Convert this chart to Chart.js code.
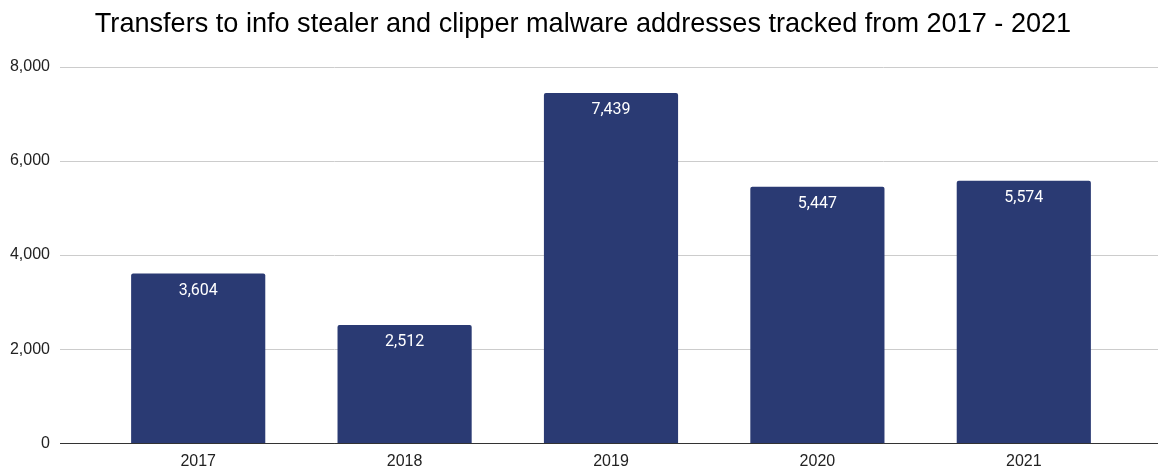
<!DOCTYPE html>
<html><head><meta charset="utf-8">
<script src="https://cdn.jsdelivr.net/npm/chart.js@4.4.1/dist/chart.umd.min.js"></script>
<style>html,body{margin:0;padding:0;background:#fff;overflow:hidden;height:473px}canvas{display:block}</style>
</head><body><canvas id="c" width="1158" height="498"></canvas>
<script>
const categories = ["2017", "2018", "2019", "2020", "2021"];
const transfers = [3604, 2512, 7439, 5447, 5574];
const yTicks = [0, 2000, 4000, 6000, 8000];
const titleText = "Transfers to info stealer and clipper malware addresses tracked from 2017 - 2021";

const fmt = v => v.toLocaleString('en-US');

const extras = {
  id: 'extras',
  beforeDatasetsDraw(chart) {
    const {ctx} = chart; const y = chart.scales.y;
    ctx.save();
    yTicks.forEach(t => {
      const py = Math.round(y.getPixelForValue(t)) + 0.5;
      ctx.strokeStyle = t === 0 ? '#333333' : '#cccccc';
      ctx.lineWidth = 1;
      ctx.beginPath(); ctx.moveTo(60, py); ctx.lineTo(1158, py); ctx.stroke();
    });
    ctx.restore();
  },
  afterDatasetsDraw(chart) {
    const {ctx} = chart;
    const meta = chart.getDatasetMeta(0);
    ctx.save();
    ctx.fillStyle = '#ffffff';
    ctx.font = '16px Roboto';
    ctx.textAlign = 'center'; ctx.textBaseline = 'middle';
    meta.data.forEach((el, i) => {
      ctx.fillText(fmt(transfers[i]), el.x, el.y + 17);
    });
    const y = chart.scales.y;
    const py = Math.round(y.getPixelForValue(0)) + 0.5;
    ctx.strokeStyle = '#333333'; ctx.lineWidth = 1;
    ctx.beginPath(); ctx.moveTo(60, py); ctx.lineTo(1158, py); ctx.stroke();
    ctx.restore();
  }
};

new Chart(document.getElementById('c'), {
  type: 'bar',
  data: {
    labels: categories,
    datasets: [{
      data: transfers,
      backgroundColor: '#2a3a73',
      borderRadius: {topLeft: 2, topRight: 2},
      borderSkipped: 'bottom',
      categoryPercentage: 1,
      barPercentage: 0.65
    }]
  },
  options: {
    responsive: false, animation: false,
    layout: {padding: {left: 8, right: 0, top: 0, bottom: 0}},
    plugins: {
      legend: {display: false}, tooltip: {enabled: false},
      title: {display: true, text: titleText, color: '#000000',
        font: {family: "'Liberation Sans', Arial", size: 27.1, weight: 'normal'},
        padding: {top: 8, bottom: 26}}
    },
    scales: {
      x: {
        afterFit(s) { s.height = 30; },
        grid: {display: false, drawTicks: false}, border: {display: false},
        ticks: {color: '#222222', font: {family: "'Liberation Sans', Arial", size: 16}, padding: 9}
      },
      y: {
        min: 0, max: 8000,
        afterFit(s) { s.width = 87; },
        afterBuildTicks(s) { s.ticks = yTicks.map(v => ({value: v})); },
        grid: {display: false, drawTicks: false}, border: {display: false},
        ticks: {color: '#222222', font: {family: "'Liberation Sans', Arial", size: 16}, padding: 45,
          callback: v => fmt(v)}
      },
      yr: {
        position: 'right', display: true, min: 0, max: 8000,
        afterFit(s) { s.width = 31; },
        grid: {display: false, drawTicks: false}, border: {display: false},
        ticks: {display: false}
      }
    }
  },
  plugins: [extras]
});
</script></body></html>
